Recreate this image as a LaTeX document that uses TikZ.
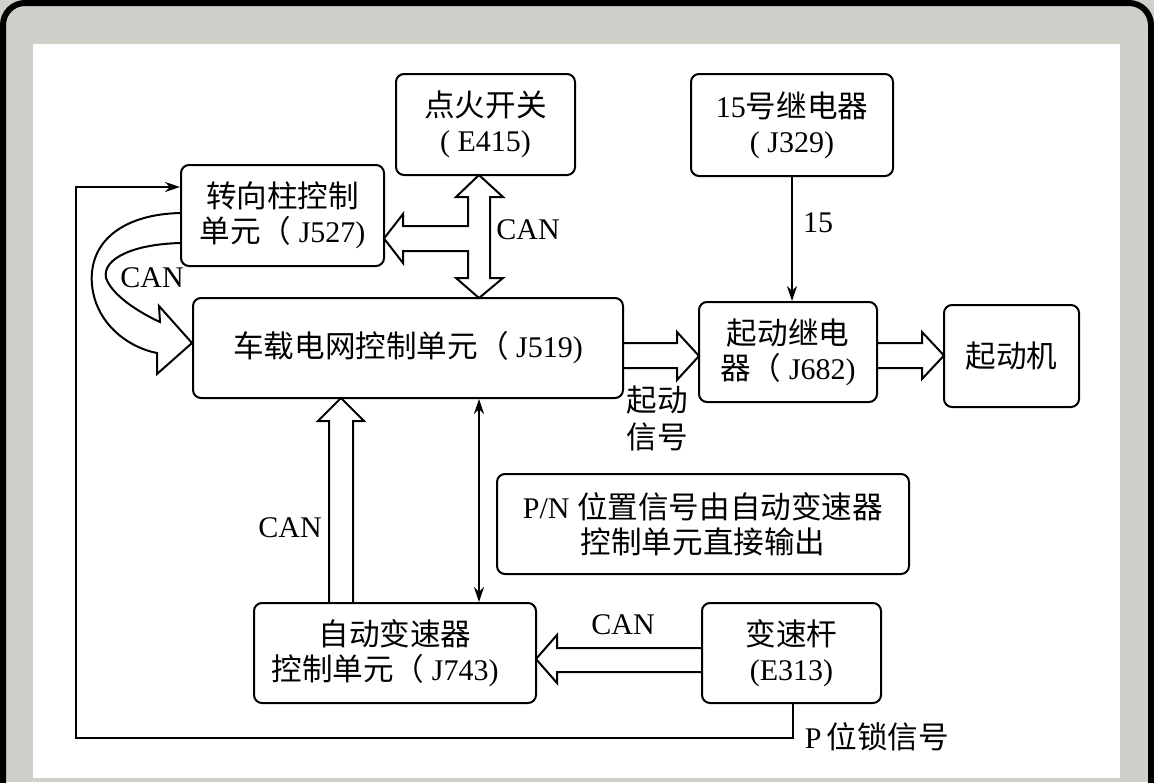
\documentclass[tikz,border=0pt]{standalone}
\usepackage{fontspec}
\setmainfont{Liberation Serif}
\newfontfamily\cjk[Scale=1.02]{Noto Sans CJK SC}
\usetikzlibrary{arrows.meta,calc}
\newcommand\zh[1]{{\cjk #1}}
\definecolor{framegray}{RGB}{208,208,203}
\begin{document}
\begin{tikzpicture}[x=1pt,y=-1pt,
  >={Stealth[length=15pt,width=10pt]},
  box/.style={draw,line width=2,rounded corners=8,align=center,inner sep=0,
    font=\fontsize{30}{35}\selectfont},
  lab/.style={inner sep=0,align=center,font=\fontsize{30}{37}\selectfont},
  hol/.style={draw,fill=white,line width=2,line join=miter},
  conn/.style={line width=1.8}]
\useasboundingbox (0,0) rectangle (1154,782);
\begin{scope}
\clip (0,0) rectangle (1154,782);
\fill[framegray] (0,0) rectangle (1154,782);
\draw[line width=6,rounded corners=22] (3,3) rectangle (1151,820);
\fill[white] (33,44) rectangle (1120,778);
\end{scope}

% block arrows (drawn first so box outlines stay on top)
% ignition T-shaped double block arrow
\draw[hol] (479,175) -- (503,197) -- (490,197) -- (490,278) -- (503,278) -- (479,298)
  -- (456,278) -- (468,278) -- (468,251) -- (403,251) -- (403,263) -- (384,238.5)
  -- (403,214) -- (403,226) -- (468,226) -- (468,197) -- (456,197) -- cycle;
% J519 -> J682
\draw[hol] (623,343) -- (677,343) -- (677,332) -- (699,356) -- (677,380) -- (677,368) -- (623,368);
% J682 -> starter
\draw[hol] (877,343) -- (922,343) -- (922,332) -- (944,355.5) -- (922,379) -- (922,368) -- (877,368);
% J743 -> J519
\draw[hol] (329,603) -- (329,421) -- (318,421) -- (341,398) -- (364,421) -- (353,421) -- (353,603);
% E313 -> J743
\draw[hol] (702,648) -- (557,648) -- (557,635) -- (536,659) -- (557,683) -- (557,672) -- (702,672);
% curved CAN arrow J527 -> J519
\draw[hol] (181,213) .. controls (125,214) and (88,240) .. (92,285)
  .. controls (96,325) and (130,348) .. (157,353) -- (157,374) -- (192,343)
  -- (159,306) -- (160,322) .. controls (138,312) and (112,295) .. (106,278)
  .. controls (102,258) and (135,244) .. (181,243);

% boxes
\node[box,minimum width=179,minimum height=101] (ign) at (485.5,124.5) {\zh{点火开关}\\( E415)};
\node[box,minimum width=202,minimum height=102] (j329) at (792,125) {15\zh{号继电器}\\( J329)};
\node[box,minimum width=203,minimum height=101] (j527) at (282.5,215.5) {\zh{转向柱控制}\\\zh{单元（} J527)};
\node[box,minimum width=430,minimum height=100] (j519) at (408,348) {\zh{车载电网控制单元（} J519)};
\node[box,minimum width=178,minimum height=100] (j682) at (788,352) {\zh{起动继电}\\\zh{器（} J682)};
\node[box,minimum width=135,minimum height=102] (st) at (1011.5,356) {\zh{起动机}};
\node[box,minimum width=412,minimum height=100] (note) at (703,524) {P/N \zh{位置信号由自动变速器}\\\zh{控制单元直接输出}};
\node[box,minimum width=282,minimum height=100] (j743) at (395,653) {\zh{自动变速器}\\\zh{控制单元（} J743)\hspace*{20pt}};
\node[box,minimum width=179,minimum height=100] (e313) at (791.5,653) {\zh{变速杆}\\(E313)};

% thin connectors
\draw[conn,->] (j329.south) -- (j329.south |- j682.north);
\coordinate (dx) at (479,0);
\draw[conn,<->] (j519.south -| dx) -- (j743.north -| dx);
\coordinate (fbx) at (793,0);
\coordinate (fbb) at (76,738);
\coordinate (fbt) at (76,187);
\draw[conn,->] (e313.south -| fbx) |- (fbb) -- (fbt) -- (fbt -| j527.west);

% labels
\node[lab] (l15) at (818,223) {15};
\node[lab] (lcan1) at (528,230) {CAN};
\node[lab] (lcan2) at (152,278) {CAN};
\node[lab] (lcan3) at (290,528) {CAN};
\node[lab] (lcan4) at (623,625) {CAN};
\node[lab] (lsig) at (657,418) {\zh{起动}\\\zh{信号}};
\node[lab] (lp) at (877,737) {P\,\zh{位锁信号}};
\end{tikzpicture}
\end{document}
